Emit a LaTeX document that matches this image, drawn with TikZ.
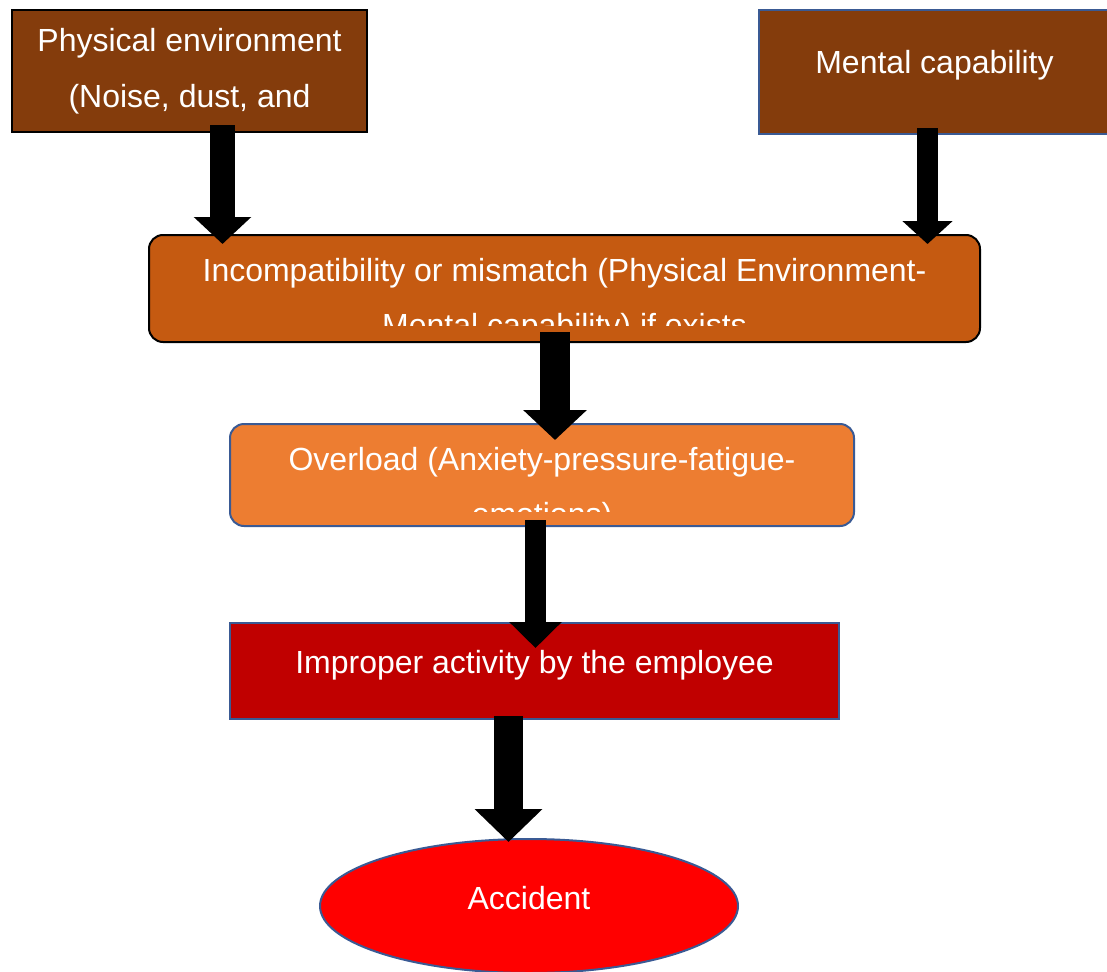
\documentclass[tikz,border=0pt]{standalone}
\usepackage{fontspec}
\setmainfont{Liberation Sans}
\usetikzlibrary{shapes.geometric,arrows.meta,calc}
\definecolor{brownA}{HTML}{843C0C}
\definecolor{orangeD}{HTML}{C55A11}
\definecolor{orangeL}{HTML}{ED7D31}
\definecolor{darkred}{HTML}{C00000}
\definecolor{brightred}{HTML}{FF0000}
\definecolor{bordblue}{HTML}{3A5A94}
\begin{document}
\begin{tikzpicture}[x=1pt,y=-1pt,
  box/.style={draw, line width=2pt, inner sep=0pt, outer sep=0pt},
  lbl/.style={text=white, anchor=base, inner sep=0pt, font=\fontsize{32}{38}\selectfont},
  barrow/.style n args={3}{draw=black, line width=#1, line cap=butt, -{Triangle[width=#2,length=#3]}}]
\useasboundingbox[fill=white] (0,0) rectangle (1107,971);
% boxes
\node[box, fill=brownA, draw=black, minimum width=355pt, minimum height=122pt] (phys) at (189.5,71) {};
\node[box, fill=brownA, draw=bordblue, minimum width=351pt, minimum height=124pt] (ment) at (934.5,72) {};
\node[box, fill=orangeD, draw=black, rounded corners=14pt, minimum width=831pt, minimum height=107pt] (inc) at (564.5,288.5) {};
\node[box, fill=orangeL, draw=bordblue, rounded corners=14pt, minimum width=624pt, minimum height=102pt] (over) at (542,475) {};
\node[box, fill=darkred, draw=bordblue, minimum width=609pt, minimum height=96pt] (imp) at (534.5,671) {};
\node[box, ellipse, fill=brightred, draw=bordblue, minimum width=418pt, minimum height=134pt] (acc) at (529,906) {};
% texts
\node[lbl] (physT1) at (189.5,52) {Physical environment};
\node[lbl] (physT2) at (189.5,107) {(Noise, dust, and};
\node[lbl] (mentT) at (934.5,74) {Mental capability};
\node[lbl] (incT1) at (564.5,281) {Incompatibility or mismatch (Physical Environment-};
\begin{scope}
  \clip (149,235) rectangle (980,325);
  \node[lbl] (incT2) at (564.5,336) {Mental capability) if exists};
\end{scope}
\node[lbl] (ovT1) at (542,470) {Overload (Anxiety-pressure-fatigue-};
\begin{scope}
  \clip (230,424) rectangle (854,511);
  \node[lbl] (ovT2) at (542,525) {emotions)};
\end{scope}
\node[lbl] (impT) at (534.5,673) {Improper activity by the employee};
\node[lbl] (accT) at (529,909) {Accident};
% arrows
\draw[barrow={25pt}{56pt}{27pt}] ([xshift=33pt,yshift=7pt]phys.south) -- ([xshift=-342pt,yshift=-9pt]inc.north);
\draw[barrow={21.5pt}{49pt}{23pt}] ([xshift=-7pt,yshift=6pt]ment.south) -- ([xshift=363pt,yshift=-9pt]inc.north);
\draw[barrow={30pt}{62pt}{30pt}] ([xshift=-9.5pt,yshift=10pt]inc.south) -- ([xshift=13pt,yshift=-16pt]over.north);
\draw[barrow={21pt}{51pt}{26pt}] ([xshift=-6.5pt,yshift=6pt]over.south) -- ([xshift=1pt,yshift=-25pt]imp.north);
\draw[barrow={29pt}{66pt}{33pt}] ([xshift=-26pt,yshift=3pt]imp.south) -- ([xshift=-20.5pt,yshift=-3pt]acc.north);
\end{tikzpicture}
\end{document}
